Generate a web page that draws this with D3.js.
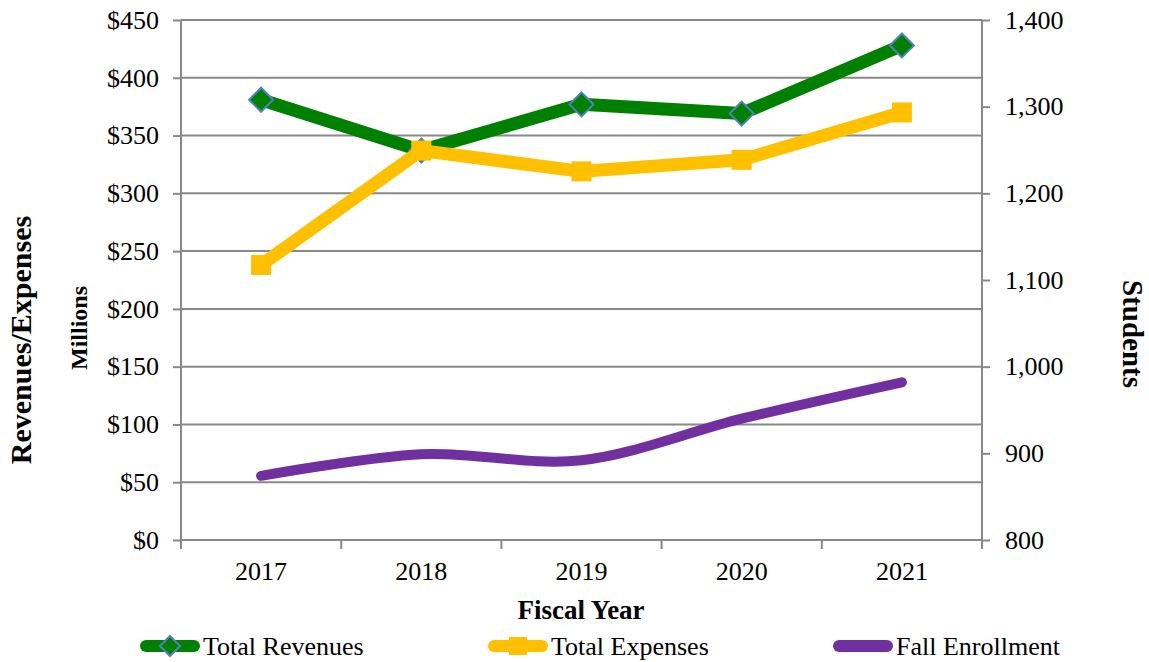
<!DOCTYPE html>
<html>
<head>
<meta charset="utf-8">
<script src="https://cdn.jsdelivr.net/npm/d3@7"></script>
<style>
  html, body { margin: 0; padding: 0; background: #fff; }
  svg { display: block; font-family: "Liberation Serif", "Times New Roman", serif; }
</style>
</head>
<body>
<svg id="chart" width="1149" height="662"></svg>
<script>
// ---- Data ----
const years = ["2017", "2018", "2019", "2020", "2021"];
const totalRevenues = [381, 337, 377, 369, 428];   // $ millions
const totalExpenses = [238, 337, 319, 329, 370];   // $ millions
const fallEnrollment = [874, 899, 892, 940, 982];  // students
const leftTicks = [0, 50, 100, 150, 200, 250, 300, 350, 400, 450];
const rightTicks = [800, 900, 1000, 1100, 1200, 1300, 1400];
const seriesNames = ["Total Revenues", "Total Expenses", "Fall Enrollment"];

// ---- Layout ----
const svg = d3.select("#chart");
const L = 181, R = 982, T = 20, B = 540;
const GRID = "#898989";
const GREEN = "#008000", YELLOW = "#FFC000", PURPLE = "#7030A0", BLUE = "#4F81BD";

const x = d3.scaleBand().domain(years).range([L, R]).paddingInner(0).paddingOuter(0);
const cx = d => x(d) + x.bandwidth() / 2;
const yL = d3.scaleLinear().domain([0, 450]).range([B, T]);
const yR = d3.scaleLinear().domain([800, 1400]).range([B, T]);

// gridlines
svg.append("g").selectAll("line").data(leftTicks.filter(d => d > 0)).join("line")
  .attr("x1", L).attr("x2", R).attr("y1", d => yL(d)).attr("y2", d => yL(d))
  .attr("stroke", GRID).attr("stroke-width", 2);

// left axis
const axL = svg.append("g").attr("transform", `translate(${L},0)`)
  .call(d3.axisLeft(yL).tickValues(leftTicks).tickSize(8).tickPadding(14).tickFormat(d => "$" + d));
// right axis
const axR = svg.append("g").attr("transform", `translate(${R},0)`)
  .call(d3.axisRight(yR).tickValues(rightTicks).tickSize(8).tickPadding(15).tickFormat(d3.format(",")));
// bottom axis
const axB = svg.append("g").attr("transform", `translate(0,${B})`)
  .call(d3.axisBottom(x).tickSize(0).tickPadding(22));
// category boundary ticks
const bounds = years.map(d => x(d)).concat([R]);
axB.selectAll("line.bt").data(bounds).join("line").attr("class", "bt")
  .attr("x1", d => d).attr("x2", d => d).attr("y1", 0).attr("y2", 9)
  .attr("stroke", GRID).attr("stroke-width", 2);

[axL, axR, axB].forEach(a => {
  a.select(".domain").attr("stroke", GRID).attr("stroke-width", 2);
  a.selectAll(".tick line").attr("stroke", GRID).attr("stroke-width", 2);
  a.selectAll("text").attr("font-family", "Liberation Serif").attr("font-size", 26).attr("fill", "#000");
});
axB.select(".domain").attr("d", `M${L},0H${R}`);
axL.select(".domain").attr("d", `M0,${T}V${B}`);
axR.select(".domain").attr("d", `M0,${T}V${B}`);

// ---- Series ----
const lineL = d3.line().x((d, i) => cx(years[i])).y(d => yL(d));
const lineR = d3.line().x((d, i) => cx(years[i])).y(d => yR(d)).curve(d3.curveCatmullRom.alpha(0));

// Revenues
svg.append("path").datum(totalRevenues).attr("d", lineL)
  .attr("fill", "none").attr("stroke", GREEN).attr("stroke-width", 13).attr("stroke-linejoin", "round");
const diamond = s => `M0,${-s}L${s},0L0,${s}L${-s},0Z`;
svg.append("g").selectAll("path").data(totalRevenues).join("path")
  .attr("transform", (d, i) => `translate(${cx(years[i])},${yL(d)})`)
  .attr("d", diamond(12)).attr("fill", GREEN).attr("stroke", BLUE).attr("stroke-width", 2);

// Expenses
svg.append("path").datum(totalExpenses).attr("d", lineL)
  .attr("fill", "none").attr("stroke", YELLOW).attr("stroke-width", 13).attr("stroke-linejoin", "round");
svg.append("g").selectAll("rect").data(totalExpenses).join("rect")
  .attr("x", (d, i) => cx(years[i]) - 10).attr("y", d => yL(d) - 10)
  .attr("width", 20).attr("height", 20).attr("fill", YELLOW);

// Enrollment
svg.append("path").datum(fallEnrollment).attr("d", lineR)
  .attr("fill", "none").attr("stroke", PURPLE).attr("stroke-width", 10)
  .attr("stroke-linecap", "round").attr("stroke-linejoin", "round");

// ---- Titles ----
svg.append("text").attr("transform", "translate(31,340) rotate(-90)")
  .attr("text-anchor", "middle").attr("font-weight", "bold").attr("font-size", 30)
  .text("Revenues/Expenses");
svg.append("text").attr("transform", "translate(87,328) rotate(-90)")
  .attr("text-anchor", "middle").attr("font-weight", "bold").attr("font-size", 24)
  .text("Millions");
svg.append("text").attr("transform", "translate(1123,334) rotate(90)")
  .attr("text-anchor", "middle").attr("font-weight", "bold").attr("font-size", 29)
  .text("Students");
svg.append("text").attr("x", 581).attr("y", 619)
  .attr("text-anchor", "middle").attr("font-weight", "bold").attr("font-size", 27)
  .text("Fiscal Year");

// ---- Legend ----
const legY = 646;
const legX = [140, 488, 833];
const legColors = [GREEN, YELLOW, PURPLE];
const leg = svg.append("g");
seriesNames.forEach((name, i) => {
  const g = leg.append("g").attr("transform", `translate(${legX[i]},${legY})`);
  g.append("line").attr("x1", 6).attr("x2", 54).attr("y1", 0).attr("y2", 0)
    .attr("stroke", legColors[i]).attr("stroke-width", 12).attr("stroke-linecap", "round");
  if (i === 0) g.append("path").attr("transform", "translate(30,0)").attr("d", diamond(10))
    .attr("fill", GREEN).attr("stroke", BLUE).attr("stroke-width", 2);
  if (i === 1) g.append("rect").attr("x", 21).attr("y", -9).attr("width", 18).attr("height", 18).attr("fill", YELLOW);
  g.append("text").attr("x", 63).attr("y", 0).attr("dy", "0.35em")
    .attr("font-size", 26).text(name);
});
</script>
</body>
</html>
